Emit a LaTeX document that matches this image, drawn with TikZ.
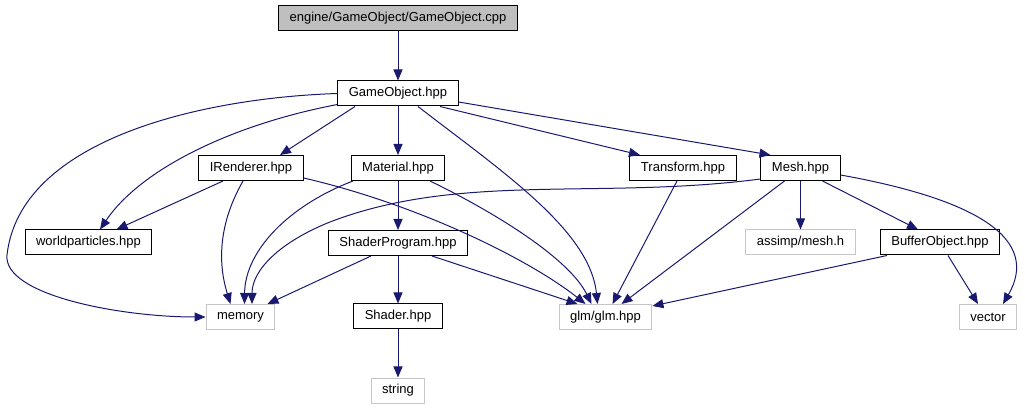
\documentclass[tikz,border=0pt]{standalone}
\usepackage{fontspec}
\setmainfont{Liberation Sans}
\usetikzlibrary{arrows.meta}
\definecolor{edgeblue}{RGB}{25,25,112}
\begin{document}
\begin{tikzpicture}[x=1pt, y=-1pt,
  box/.style={draw=black, line width=1pt, fill=white, minimum height=25pt,
    inner xsep=11pt, inner ysep=0pt, font=\fontsize{13}{15}\selectfont},
  extbox/.style={box, draw=gray!45},
  rootbox/.style={box, fill=gray!50},
  edge/.style={draw=edgeblue, line width=1pt, -{Triangle[length=11pt,width=9pt]}}]
  \useasboundingbox (0,0) rectangle (1025,411);
  % Files of the project
  \node[rootbox] (cpp) at (398,18.5) {engine/GameObject/GameObject.cpp};
  \node[box] (go) at (398,93.5) {GameObject.hpp};
  \node[box] (irend) at (251,168) {IRenderer.hpp};
  \node[box] (mat) at (398,168) {Material.hpp};
  \node[box] (tr) at (683,168) {Transform.hpp};
  \node[box] (mesh) at (800.5,168) {Mesh.hpp};
  \node[box] (wp) at (88.5,242.5) {worldparticles.hpp};
  \node[box] (sp) at (398,243) {ShaderProgram.hpp};
  \node[box] (bo) at (940,242.5) {BufferObject.hpp};
  \node[box] (shader) at (398,316.5) {Shader.hpp};
  % System headers
  \node[extbox] (assimp) at (800.5,242.5) {assimp/mesh.h};
  \node[extbox] (mem) at (240.5,317) {memory};
  \node[extbox] (glm) at (605.5,317) {glm/glm.hpp};
  \node[extbox] (vec) at (988,317) {vector};
  \node[extbox] (str) at (398,390.5) {string};
  % GameObject.cpp / GameObject.hpp
  \draw[edge] (cpp) -- (go);
  \draw[edge] (go.west) .. controls (200,98) and (20,140) .. (7,255)
    .. controls (3,295) and (120,317) .. (mem.west);
  \draw[edge] ([yshift=2pt]go.south west) .. controls (230,125) and (140,170) .. ([xshift=11.5pt]wp.north);
  \draw[edge] ([xshift=-43pt]go.south) -- ([xshift=29pt]irend.north);
  \draw[edge] (go) -- (mat);
  \draw[edge] ([xshift=20pt]go.south) .. controls (500,170) and (590,230) .. ([xshift=-8pt]glm.north);
  \draw[edge] ([xshift=42pt]go.south) -- ([xshift=-43pt]tr.north);
  \draw[edge] ([yshift=-8.5pt]go.east) -- ([xshift=-30pt]mesh.north);
  % IRenderer.hpp
  \draw[edge] ([xshift=-28pt]irend.south) -- ([xshift=28pt]wp.north);
  \draw[edge] ([xshift=-8pt]irend.south) .. controls (215,230) and (220,270) .. ([xshift=-10pt]mem.north);
  \draw[edge] ([yshift=-10pt]irend.east) .. controls (420,205) and (530,260) .. ([xshift=-20pt]glm.north);
  % Material.hpp
  \draw[edge] ([xshift=-45pt]mat.south) .. controls (290,205) and (245,250) .. ([xshift=4pt]mem.north);
  \draw[edge] (mat) -- (sp);
  \draw[edge] ([xshift=32pt]mat.south) .. controls (500,215) and (570,260) .. ([xshift=-14pt]glm.north);
  % ShaderProgram.hpp / Shader.hpp
  \draw[edge] ([xshift=-27pt]sp.south) -- ([xshift=27pt]mem.north);
  \draw[edge] (sp) -- (shader);
  \draw[edge] ([xshift=34pt]sp.south) -- ([xshift=-28pt]glm.north);
  \draw[edge] (shader) -- (str);
  % Transform.hpp / Mesh.hpp
  \draw[edge] ([xshift=-6pt]tr.south) -- ([xshift=7pt]glm.north);
  \draw[edge] ([yshift=-11pt]mesh.west) .. controls (600,200) and (460,172) .. (330,222)
    .. controls (280,242) and (252,270) .. ([xshift=11.5pt]mem.north);
  \draw[edge] ([xshift=-16pt]mesh.south) -- ([xshift=16pt]glm.north);
  \draw[edge] (mesh) -- (assimp);
  \draw[edge] ([xshift=22pt]mesh.south) -- ([xshift=-22pt]bo.north);
  \draw[edge] ([yshift=-7pt]mesh.east) .. controls (980,200) and (1040,240) .. ([xshift=15pt]vec.north);
  % BufferObject.hpp
  \draw[edge] ([xshift=-53pt]bo.south) -- ([yshift=-2pt]glm.north east);
  \draw[edge] ([xshift=8pt]bo.south) -- ([xshift=-10pt]vec.north);
\end{tikzpicture}
\end{document}
